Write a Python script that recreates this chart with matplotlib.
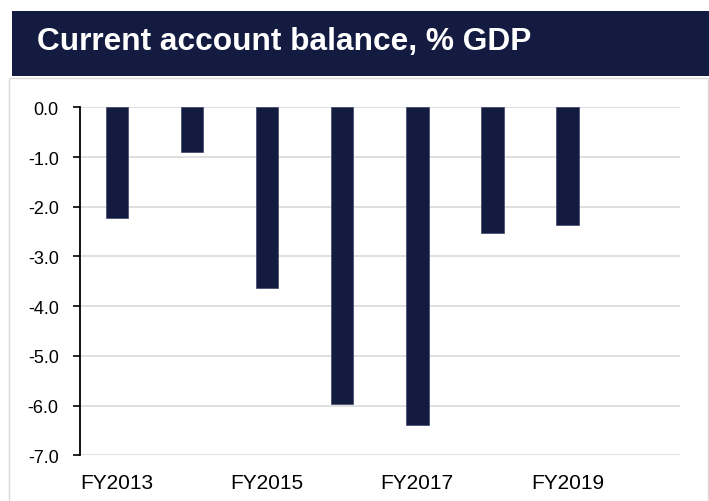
import matplotlib
matplotlib.use("Agg")
import matplotlib.pyplot as plt
from matplotlib.patches import Rectangle

categories = ["FY2013", "FY2014", "FY2015", "FY2016", "FY2017", "FY2018", "FY2019", "FY2020"]
values = [-2.23, -0.90, -3.64, -5.97, -6.40, -2.53, -2.37, None]
tick_labels = ["FY2013", "FY2015", "FY2017", "FY2019"]
y_ticks = [0, -1, -2, -3, -4, -5, -6, -7]
title = "Current account balance, % GDP"

navy = "#131c40"
W, H = 709, 502
fig = plt.figure(figsize=(W / 100, H / 100), dpi=100)
plt.rcParams['font.family'] = ['Liberation Sans', 'DejaVu Sans']

def fx(px):
    return px / W

def fy(py):
    return 1 - py / H

# outer border (runs off the bottom edge)
fig.patches.append(Rectangle((fx(9), fy(510)), fx(708) - fx(9), fy(79) - fy(510),
                             transform=fig.transFigure, fill=False,
                             edgecolor="#d9d9d9", linewidth=1.0, zorder=0))
# banner
fig.patches.append(Rectangle((fx(12), fy(77.3)), 1 - fx(12), fy(11.7) - fy(77.3),
                             transform=fig.transFigure, facecolor=navy,
                             edgecolor="none", zorder=1))
fig.text(fx(37), fy(42), title, color="white", fontsize=22.8, fontweight="bold",
         ha="left", va="center", zorder=2)

ax = fig.add_axes([fx(79.5), fy(456.3), fx(680) - fx(79.5), fy(108.3) - fy(456.3)])

xs = list(range(len(categories)))
for x, v in zip(xs, values):
    if v is not None:
        ax.bar(x, v, width=0.30, color=navy, edgecolor="#3b4466", linewidth=0.5, zorder=3)

ax.set_xlim(-0.5, len(categories) - 0.5)
ax.set_ylim(-7, 0)
ax.set_yticks(y_ticks)
ax.set_yticklabels([f"{t:.1f}" for t in y_ticks])
ax.set_xticks([categories.index(t) for t in tick_labels])
ax.set_xticklabels(tick_labels)

ax.grid(axis="y", color="#d9d9d9", linewidth=1.2, zorder=0)
ax.set_axisbelow(True)
for s in ["top", "right", "bottom"]:
    ax.spines[s].set_visible(False)
ax.spines["left"].set_color("black")
ax.spines["left"].set_linewidth(1.3)
ax.spines["left"].set_zorder(4)
ax.tick_params(axis="y", direction="out", length=5, width=1.2, color="black",
               labelsize=13, pad=10)
ax.tick_params(axis="x", length=0, labelsize=15, pad=13)

fig.savefig("out.png", dpi=100)
